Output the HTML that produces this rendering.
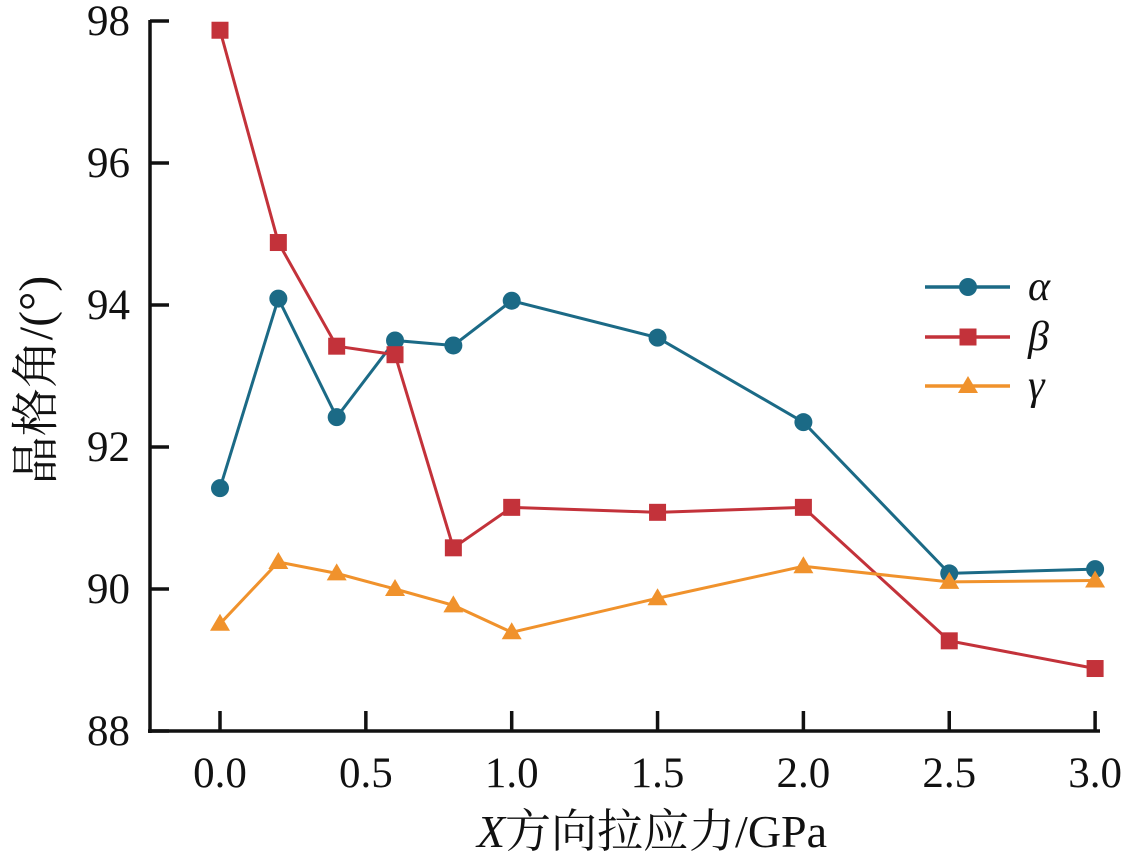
<!DOCTYPE html>
<html><head><meta charset="utf-8">
<style>
html,body{margin:0;padding:0;background:#fff;}
svg{display:block;}
text{font-family:"Liberation Serif","Noto Serif CJK SC",serif;fill:#111;}
</style></head>
<body>
<svg id="chart" width="1124" height="865" viewBox="0 0 1124 865"></svg>
<script>
const xValues = [0.0, 0.2, 0.4, 0.6, 0.8, 1.0, 1.5, 2.0, 2.5, 3.0];
const alphaValues = [91.42, 94.09, 92.42, 93.5, 93.43, 94.06, 93.54, 92.35, 90.22, 90.28];
const betaValues = [97.87, 94.88, 93.42, 93.3, 90.58, 91.15, 91.08, 91.15, 89.27, 88.88];
const gammaValues = [89.51, 90.38, 90.22, 90.0, 89.77, 89.39, 89.87, 90.32, 90.1, 90.12];
const xTicks = [0.0, 0.5, 1.0, 1.5, 2.0, 2.5, 3.0];
const xTickLabels = ["0.0", "0.5", "1.0", "1.5", "2.0", "2.5", "3.0"];
const yTicks = [88, 90, 92, 94, 96, 98];
const yTickLabels = ["88", "90", "92", "94", "96", "98"];

const NS = "http://www.w3.org/2000/svg";
const svg = document.getElementById("chart");
function X(v){ return 220 + v * 291.7; }
function Y(v){ return 731 - (v - 88) * 71; }
function mk(tag, attrs, parent){
  const e = document.createElementNS(NS, tag);
  for (const k in attrs) e.setAttribute(k, attrs[k]);
  (parent || svg).appendChild(e);
  return e;
}

const axes = mk("g", {});


const ya = mk("line", {x1:150, y1:Y(98)-1, x2:150, y2:733, stroke:"#111", "stroke-width":3.5}, axes);


const xa = mk("line", {x1:148, y1:731, x2:1100, y2:731, stroke:"#111", "stroke-width":3.5}, axes);



yTicks.forEach((t, i) => {
  const l = mk("line", {x1:150, y1:Y(t), x2:169, y2:Y(t), stroke:"#111", "stroke-width":3.5}, axes);
  
  
  const tx = mk("text", {x:130, y:Y(t)+14, "text-anchor":"end", "font-size":43}, axes);
  tx.textContent = yTickLabels[i];
  
  
});
xTicks.forEach((t, i) => {
  const l = mk("line", {x1:X(t), y1:731, x2:X(t), y2:711, stroke:"#111", "stroke-width":3.5}, axes);
  
  
  const tx = mk("text", {x:X(t), y:787, "text-anchor":"middle", "font-size":43}, axes);
  tx.textContent = xTickLabels[i];
  
  
});

const yt = mk("text", {x:0, y:0, "text-anchor":"middle", "font-size":48, transform:"translate(52,380) rotate(-90)"});
yt.textContent = "晶格角/(°)";


const xt = mk("text", {x:652, y:847, "text-anchor":"middle", "font-size":46});
xt.innerHTML = '<tspan font-style="italic">X</tspan>方向拉应力/GPa';



function marker(g, shape, cx, cy, color){
  let m;
  if (shape === "circle") m = mk("circle", {cx:cx, cy:cy, r:9, fill:color}, g);
  else if (shape === "square") m = mk("rect", {x:cx-8.5, y:cy-8.5, width:17, height:17, fill:color}, g);
  else m = mk("polygon", {points:`${cx},${cy-10} ${cx-10},${cy+7} ${cx+10},${cy+7}`, fill:color}, g);
  return m;
}

const series = [
  {name:"alpha", vals:alphaValues, color:"#1b6a86", shape:"circle", label:"α", ly:287},
  {name:"beta", vals:betaValues, color:"#c3323a", shape:"square", label:"β", ly:337},
  {name:"gamma", vals:gammaValues, color:"#f0922c", shape:"triangle", label:"γ", ly:386}
];
series.forEach(s => {
  const g = mk("g", {});
  
  
  const pts = s.vals.map((v, i) => X(xValues[i]) + "," + Y(v)).join(" ");
  const pl = mk("polyline", {points:pts, fill:"none", stroke:s.color, "stroke-width":3}, g);
  
  
  s.vals.forEach((v, i) => {
    const m = marker(g, s.shape, X(xValues[i]), Y(v), s.color);
    
    
  });
  const lg = mk("g", {});
  
  
  mk("line", {x1:925, y1:s.ly, x2:1010, y2:s.ly, stroke:s.color, "stroke-width":3.5}, lg);
  marker(lg, s.shape, 968, s.ly, s.color);
  const t = mk("text", {x:1028, y:s.ly+13, "font-size":42, "font-style":"italic"}, lg);
  t.textContent = s.label;
});
</script>
</body></html>
